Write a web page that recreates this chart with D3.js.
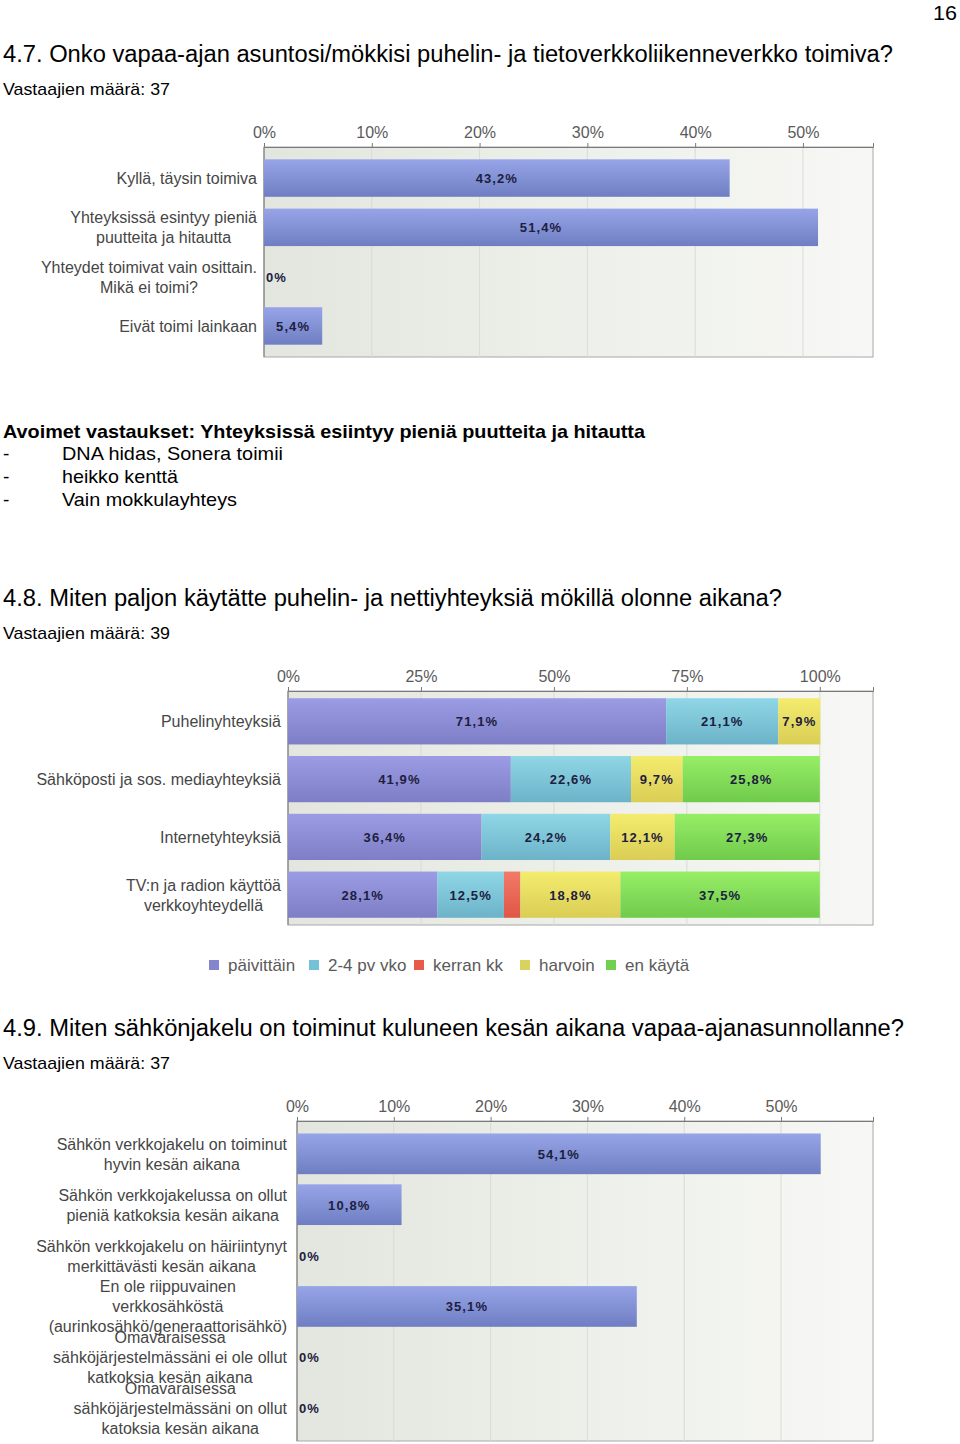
<!DOCTYPE html>
<html>
<head>
<meta charset="utf-8">
<script src="https://cdn.jsdelivr.net/npm/d3@7"></script>
<style>
  body { margin: 0; background: #fff; }
  svg { display: block; font-family: "Liberation Sans", Arial, sans-serif; }
</style>
</head>
<body>
<svg id="page" width="960" height="1444"></svg>
<script>
// ---- data ----
const q47Categories = [
  "Kyllä, täysin toimiva",
  "Yhteyksissä esintyy pieniä\npuutteita ja hitautta",
  "Yhteydet toimivat vain osittain.\nMikä ei toimi?",
  "Eivät toimi lainkaan"
];
const q47Values = [43.2, 51.4, 0, 5.4];
const q47Ticks = [0, 10, 20, 30, 40, 50];

const q48Categories = [
  "Puhelinyhteyksiä",
  "Sähköposti ja sos. mediayhteyksiä",
  "Internetyhteyksiä",
  "TV:n ja radion käyttöä\nverkkoyhteydellä"
];
const q48Series = ["päivittäin", "2-4 pv vko", "kerran kk", "harvoin", "en käytä"];
const q48Daily = [71.1, 41.9, 36.4, 28.1];
const q48Weekly = [21.1, 22.6, 24.2, 12.5];
const q48Monthly = [0, 0, 0, 3.1];
const q48Rarely = [7.9, 9.7, 12.1, 18.8];
const q48Never = [0, 25.8, 27.3, 37.5];
const q48Ticks = [0, 25, 50, 75, 100];

const q49Categories = [
  "Sähkön verkkojakelu on toiminut\nhyvin kesän aikana",
  "Sähkön verkkojakelussa on ollut\npieniä katkoksia kesän aikana",
  "Sähkön verkkojakelu on häiriintynyt\nmerkittävästi kesän aikana",
  "En ole riippuvainen\nverkkosähköstä\n(aurinkosähkö/generaattorisähkö)",
  "Omavaraisessa\nsähköjärjestelmässäni ei ole ollut\nkatkoksia kesän aikana",
  "Omavaraisessa\nsähköjärjestelmässäni on ollut\nkatoksia kesän aikana"
];
const q49Values = [54.1, 10.8, 0, 35.1, 0, 0];
const q49Ticks = [0, 10, 20, 30, 40, 50];

const svg = d3.select('#page');
const defs = svg.append('defs');

// vertical gradients for the bars
const palette = {
  blue:   ['#97a5e8', '#6f7dc2'],
  purple: ['#9c9ce4', '#7e7ec6'],
  cyan:   ['#8fd6e6', '#6cb3c9'],
  red:    ['#f27a69', '#e05646'],
  yellow: ['#f3ec6e', '#dacd55'],
  green:  ['#97ee66', '#70cb4b']
};
Object.entries(palette).forEach(([name, [top, bot]]) => {
  const g = defs.append('linearGradient').attr('id', 'g-' + name)
    .attr('x1', 0).attr('y1', 0).attr('x2', 0).attr('y2', 1);
  g.append('stop').attr('offset', 0).attr('stop-color', top);
  g.append('stop').attr('offset', 1).attr('stop-color', bot);
});
const bg = defs.append('linearGradient').attr('id', 'plot-bg')
  .attr('x1', 0).attr('y1', 0).attr('x2', 1).attr('y2', 0);
bg.append('stop').attr('offset', 0).attr('stop-color', '#e3e6de');
bg.append('stop').attr('offset', 1).attr('stop-color', '#f7f8f5');

const pct = v => v === 0 ? '0%' : d3.format('.1f')(v).replace('.', ',') + '%';

// ---- page text ----
function pageText(str, x, y, size, len, bold) {
  svg.append('text')
    .attr('x', x).attr('y', y)
    .attr('font-size', size)
    .attr('font-weight', bold ? 'bold' : 'normal')
    .attr('fill', '#000')
    .attr('textLength', len)
    .attr('lengthAdjust', 'spacingAndGlyphs')
    .text(str);
}
pageText('16', 933, 20, 21, 24);
pageText('4.7. Onko vapaa-ajan asuntosi/mökkisi puhelin- ja tietoverkkoliikenneverkko toimiva?', 3, 62, 23, 890);
pageText('Vastaajien määrä: 37', 3, 95, 17, 167);
pageText('Avoimet vastaukset: Yhteyksissä esiintyy pieniä puutteita ja hitautta', 3, 438, 19, 642, true);
['DNA hidas, Sonera toimii', 'heikko kenttä', 'Vain mokkulayhteys'].forEach((s, i) => {
  svg.append('text').attr('x', 3).attr('y', 460 + i * 23).attr('font-size', 19).text('-');
  pageText(s, 62, 460 + i * 23, 19, [221, 116, 175][i]);
});
pageText('4.8. Miten paljon käytätte puhelin- ja nettiyhteyksiä mökillä olonne aikana?', 3, 606, 23, 779);
pageText('Vastaajien määrä: 39', 3, 639, 17, 167);
pageText('4.9. Miten sähkönjakelu on toiminut kuluneen kesän aikana vapaa-ajanasunnollanne?', 3, 1036, 23, 901);
pageText('Vastaajien määrä: 37', 3, 1069, 17, 167);

// ---- chart ----
function drawBarChart(o) {
  const g = svg.append('g');
  const x = d3.scaleLinear().domain([0, o.max]).range([o.left, o.right]);
  const y = d3.scaleBand().domain(d3.range(o.categories.length))
    .range([o.top, o.bottom]).paddingInner(o.padInner).paddingOuter(o.padOuter);

  // plot background + grid
  g.append('rect')
    .attr('x', o.left).attr('y', o.top)
    .attr('width', o.right - o.left).attr('height', o.bottom - o.top)
    .attr('fill', 'url(#plot-bg)').attr('stroke', '#a8a8a8');
  g.selectAll('.grid').data(o.ticks.slice(1)).enter().append('line')
    .attr('x1', d => x(d)).attr('x2', d => x(d))
    .attr('y1', o.top).attr('y2', o.bottom)
    .attr('stroke', '#d9dbd6');

  // top axis
  const axis = g.append('g')
    .attr('transform', `translate(0,${o.top})`)
    .call(d3.axisTop(x).tickValues(o.ticks).tickSize(4).tickPadding(5).tickFormat(d => d + '%'));
  axis.select('.domain').attr('stroke', '#7a7a7a');
  axis.selectAll('.tick line').attr('stroke', '#7a7a7a');
  axis.selectAll('text')
    .attr('font-family', '"Liberation Sans", Arial, sans-serif')
    .attr('font-size', 16).attr('fill', '#5a5a5a');
  g.append('line')
    .attr('x1', o.left).attr('x2', o.left).attr('y1', o.top).attr('y2', o.bottom)
    .attr('stroke', '#7a7a7a');

  // stacked series
  o.series.forEach((s, si) => {
    const segs = s.values.map((v, i) => ({
      v, i, start: d3.sum(o.series.slice(0, si), p => p.values[i])
    }));
    g.selectAll('.bar-' + si).data(segs).enter().append('rect')
      .attr('x', d => x(d.start))
      .attr('y', d => y(d.i))
      .attr('height', y.bandwidth())
      .attr('width', d => x(d.v) - x(0))
      .attr('fill', `url(#g-${s.color})`);
    const labelled = segs.filter(d => (d.v > 0 && x(d.v) - x(0) > 28) || (d.v === 0 && o.showZero));
    g.selectAll('.lbl-' + si).data(labelled).enter().append('text')
      .attr('x', d => d.v === 0 ? x(0) + 2 : x(d.start + d.v / 2))
      .attr('y', d => y(d.i) + y.bandwidth() / 2 + 5)
      .attr('text-anchor', d => d.v === 0 ? 'start' : 'middle')
      .attr('font-size', 13).attr('font-weight', 'bold')
      .attr('letter-spacing', 1.1)
      .attr('fill', '#1d2040')
      .text(d => pct(d.v));
  });

  // category labels: centred lines in a right-aligned block
  o.categories.forEach((c, i) => {
    const lines = c.split('\n');
    const t = g.append('text')
      .attr('font-size', 16).attr('fill', '#464646')
      .attr('text-anchor', 'middle');
    const spans = lines.map((ln, k) => t.append('tspan')
      .attr('y', y(i) + y.bandwidth() / 2 + 6 + (k - (lines.length - 1) / 2) * 20)
      .text(ln));
    const w = d3.max(spans, sp => sp.node().getComputedTextLength());
    spans.forEach(sp => sp.attr('x', o.labelRight - w / 2));
  });
}

drawBarChart({
  left: 264, right: 873, top: 147, bottom: 357, max: 56.5,
  ticks: q47Ticks, categories: q47Categories, labelRight: 257,
  padInner: 0.24, padOuter: 0.25, showZero: true,
  series: [{ values: q47Values, color: 'blue' }]
});

drawBarChart({
  left: 288, right: 873, top: 691, bottom: 925, max: 110,
  ticks: q48Ticks, categories: q48Categories, labelRight: 281,
  padInner: 0.2, padOuter: 0.125, showZero: false,
  series: [
    { values: q48Daily, color: 'purple' },
    { values: q48Weekly, color: 'cyan' },
    { values: q48Monthly, color: 'red' },
    { values: q48Rarely, color: 'yellow' },
    { values: q48Never, color: 'green' }
  ]
});

drawBarChart({
  left: 297, right: 873, top: 1121, bottom: 1441, max: 59.5,
  ticks: q49Ticks, categories: q49Categories, labelRight: 287,
  padInner: 0.2, padOuter: 0.245, showZero: true,
  series: [{ values: q49Values, color: 'blue' }]
});

// legend for 4.8
const legendColors = ['#8585cf', '#74c2d8', '#e85b4b', '#d9d25e', '#72d04f'];
const legendX = [209, 309, 414, 520, 606];
const legend = svg.append('g');
q48Series.forEach((name, i) => {
  legend.append('rect')
    .attr('x', legendX[i]).attr('y', 960)
    .attr('width', 10).attr('height', 10)
    .attr('fill', legendColors[i]);
  legend.append('text')
    .attr('x', legendX[i] + 19).attr('y', 971)
    .attr('font-size', 17).attr('fill', '#5a5a5a')
    .text(name);
});
</script>
</body>
</html>
